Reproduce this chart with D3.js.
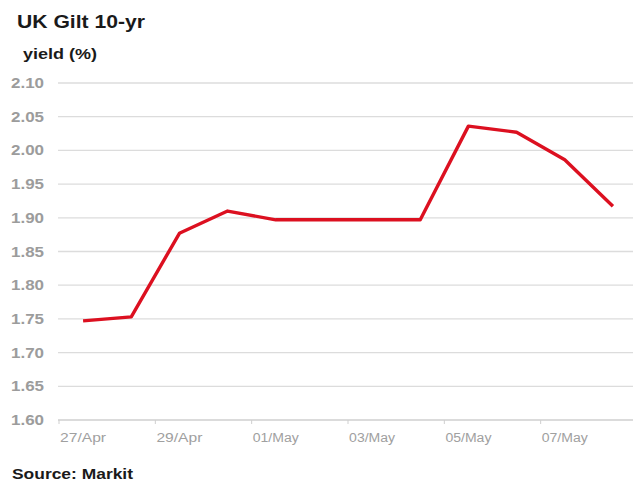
<!DOCTYPE html>
<html>
<head>
<meta charset="utf-8">
<script src="https://cdn.jsdelivr.net/npm/d3@7"></script>
<style>
  html, body { margin: 0; padding: 0; background: #fff; }
  svg { display: block; font-family: "Liberation Sans", Arial, sans-serif; }
</style>
</head>
<body>
<svg id="chart" width="633" height="484"></svg>
<script>
// ---- data ----
const categories = ["27/Apr","28/Apr","29/Apr","30/Apr","01/May","02/May","03/May","04/May","05/May","06/May","07/May","08/May"];
const yieldValues = [1.747, 1.753, 1.877, 1.910, 1.897, 1.897, 1.897, 1.897, 2.036, 2.027, 1.986, 1.917];
const yTickValues = [1.60, 1.65, 1.70, 1.75, 1.80, 1.85, 1.90, 1.95, 2.00, 2.05, 2.10];
const xTickLabels = ["27/Apr","29/Apr","01/May","03/May","05/May","07/May"];
const titleText = "UK Gilt 10-yr";
const unitText = "yield (%)";
const sourceText = "Source: Markit";

const svg = d3.select("#chart");

const x = d3.scaleBand().domain(categories).range([59, 637]).padding(0);
const y = d3.scaleLinear().domain([1.60, 2.10]).range([420, 83]);

// gridlines
svg.append("g")
  .selectAll("line")
  .data(yTickValues.slice(1))
  .join("line")
  .attr("x1", 58).attr("x2", 633)
  .attr("y1", d => y(d)).attr("y2", d => y(d))
  .attr("stroke", "#dcdcdc").attr("stroke-width", 1.3);

// y axis labels
svg.append("g")
  .selectAll("text")
  .data(yTickValues)
  .join("text")
  .attr("x", 44)
  .attr("y", d => y(d))
  .attr("dy", "0.36em")
  .attr("text-anchor", "end")
  .attr("fill", "#9c9c9c")
  .attr("font-size", 14)
  .attr("font-weight", "bold")
  .attr("textLength", 33)
  .attr("lengthAdjust", "spacingAndGlyphs")
  .text(d => d.toFixed(2));

// x axis
const xAxis = svg.append("g");
xAxis.append("line")
  .attr("x1", 58).attr("x2", 633)
  .attr("y1", y(1.60)).attr("y2", y(1.60))
  .attr("stroke", "#cfcfcf").attr("stroke-width", 1.3);

xAxis.selectAll("line.tick")
  .data(xTickLabels)
  .join("line")
  .attr("class", "tick")
  .attr("x1", d => x(d)).attr("x2", d => x(d))
  .attr("y1", y(1.60)).attr("y2", y(1.60) + 4)
  .attr("stroke", "#cfcfcf").attr("stroke-width", 1);

xAxis.selectAll("text")
  .data(xTickLabels)
  .join("text")
  .attr("x", d => x(d) + x.bandwidth() / 2)
  .attr("y", 442)
  .attr("text-anchor", "middle")
  .attr("fill", "#a0a0a0")
  .attr("font-size", 12)
  .attr("textLength", 46)
  .attr("lengthAdjust", "spacingAndGlyphs")
  .text(d => d);

// line
const line = d3.line()
  .x((d, i) => x(categories[i]) + x.bandwidth() / 2)
  .y(d => y(d));

svg.append("path")
  .datum(yieldValues)
  .attr("d", line)
  .attr("fill", "none")
  .attr("stroke", "#dc1020")
  .attr("stroke-width", 3.4)
  .attr("stroke-linejoin", "round");

// titles
svg.append("text")
  .attr("x", 17).attr("y", 28)
  .attr("font-size", 19).attr("font-weight", "bold")
  .attr("fill", "#1a1a1a")
  .attr("textLength", 128)
  .attr("lengthAdjust", "spacingAndGlyphs")
  .text(titleText);

svg.append("text")
  .attr("x", 23).attr("y", 59)
  .attr("font-size", 14).attr("font-weight", "bold")
  .attr("fill", "#1a1a1a")
  .attr("textLength", 74)
  .attr("lengthAdjust", "spacingAndGlyphs")
  .text(unitText);

svg.append("text")
  .attr("x", 12).attr("y", 479)
  .attr("font-size", 15).attr("font-weight", "bold")
  .attr("fill", "#1a1a1a")
  .attr("textLength", 121)
  .attr("lengthAdjust", "spacingAndGlyphs")
  .text(sourceText);
</script>
</body>
</html>
